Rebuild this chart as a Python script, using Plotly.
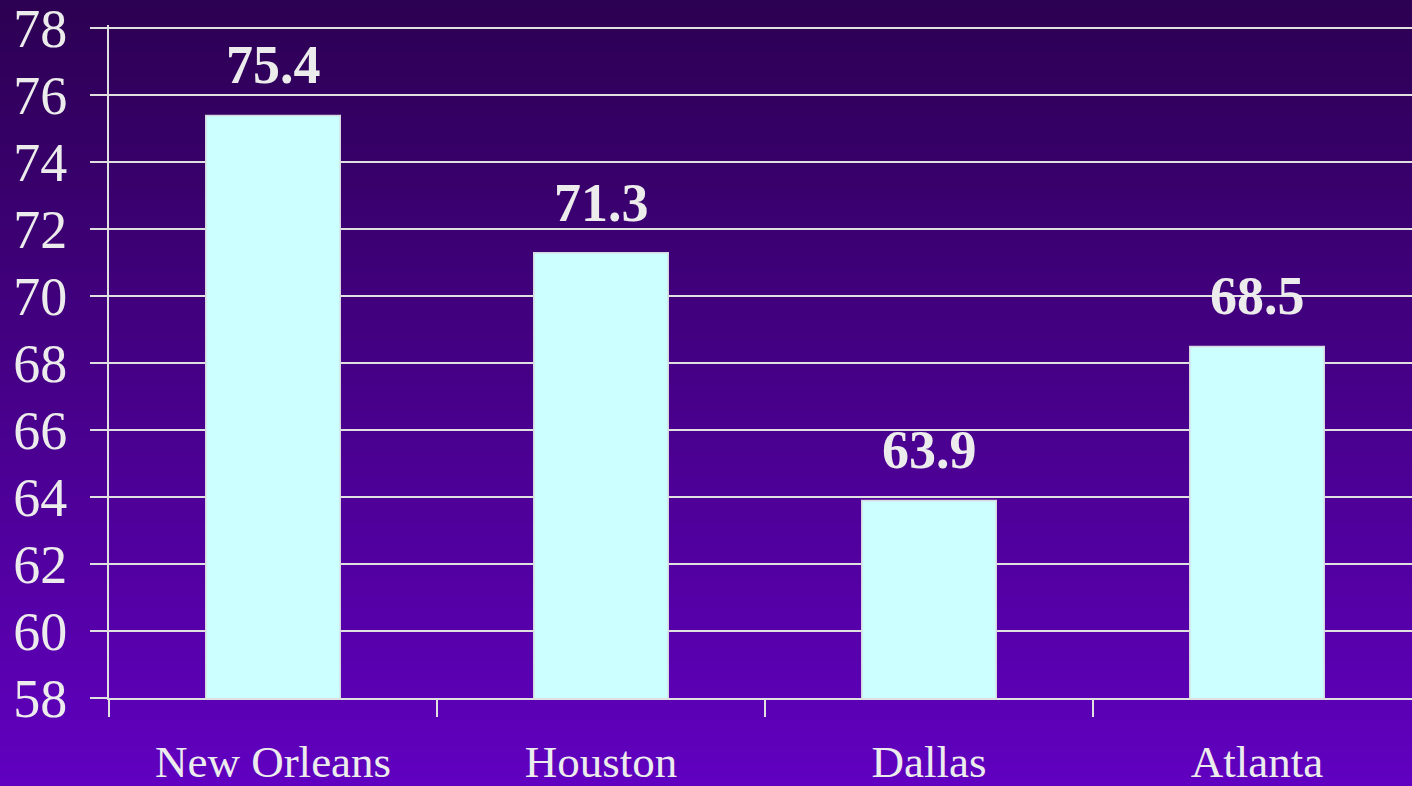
import plotly.graph_objects as go

cities = ["New Orleans", "Houston", "Dallas", "Atlanta"]
values = [75.4, 71.3, 63.9, 68.5]
value_labels = ["75.4", "71.3", "63.9", "68.5"]
y_ticks = [58, 60, 62, 64, 66, 68, 70, 72, 74, 76, 78]

W, H = 1412, 786
top_rgb = (44, 0, 82)
bottom_rgb = (97, 0, 192)

fig = go.Figure()

fig.add_trace(
    go.Bar(
        x=cities,
        y=values,
        width=0.41,
        marker=dict(color="#ccffff", line=dict(color="#d8d8e0", width=1.5)),
        hoverinfo="skip",
    )
)

# value labels above the bars
for city, val, lab in zip(cities, values, value_labels):
    fig.add_annotation(
        x=city, y=val, text="<b>" + lab + "</b>",
        showarrow=False, yanchor="middle", yshift=50,
        font=dict(family="Liberation Serif", size=54, color="#ececec"),
    )

# vertical gradient background made of thin bands (top dark -> bottom bright)
n = 120
margin_t, margin_b, margin_l = 25, 88, 109
plot_h = H - margin_t - margin_b
plot_w = W - margin_l
shapes = []
for i in range(n):
    f = (i + 0.5) / n
    c = tuple(round(top_rgb[k] + (bottom_rgb[k] - top_rgb[k]) * f) for k in range(3))
    py_top = H * i / n
    py_bot = H * (i + 1) / n
    shapes.append(dict(
        type="rect", xref="paper", yref="paper", layer="below",
        x0=-margin_l / plot_w - 0.01, x1=1.01,
        y0=(H - margin_b - py_bot) / plot_h - 0.002,
        y1=(H - margin_b - py_top) / plot_h + 0.002,
        fillcolor="rgb(%d,%d,%d)" % c, line=dict(width=0),
    ))

fig.update_layout(
    width=W, height=H,
    margin=dict(l=margin_l, r=0, t=margin_t, b=margin_b, autoexpand=False),
    paper_bgcolor="rgb(97,0,192)",
    plot_bgcolor="rgba(0,0,0,0)",
    shapes=shapes,
    showlegend=False,
    bargap=0.59,
)

fig.update_xaxes(
    range=[-0.5, 3.5 - 9 / 328],
    tickson="boundaries",
    ticks="outside", ticklen=17, tickwidth=2, tickcolor="#e0e0e0",
    showline=True, linecolor="#e0e0e0", linewidth=2,
    showgrid=False,
    tickfont=dict(family="Liberation Serif", size=45, color="#ececec"),
    ticklabelstandoff=23,
    automargin=False,
)

fig.update_yaxes(
    range=[58, 78.1],
    tickvals=y_ticks,
    ticktext=[str(v) for v in y_ticks],
    ticks="outside", ticklen=17, tickwidth=2, tickcolor="#e0e0e0",
    showline=True, linecolor="#e0e0e0", linewidth=2,
    showgrid=True, gridcolor="#e0e0e0", gridwidth=2,
    zeroline=False,
    tickfont=dict(family="Liberation Serif", size=54, color="#ececec"),
    ticklabelstandoff=12,
    ticklabeloverflow="allow",
    automargin=False,
)

fig.write_html(
    "out.html",
    config={"displayModeBar": False},
    post_script="document.body.style.margin='0';"
    "document.body.style.background='rgb(97,0,192)';",
)
